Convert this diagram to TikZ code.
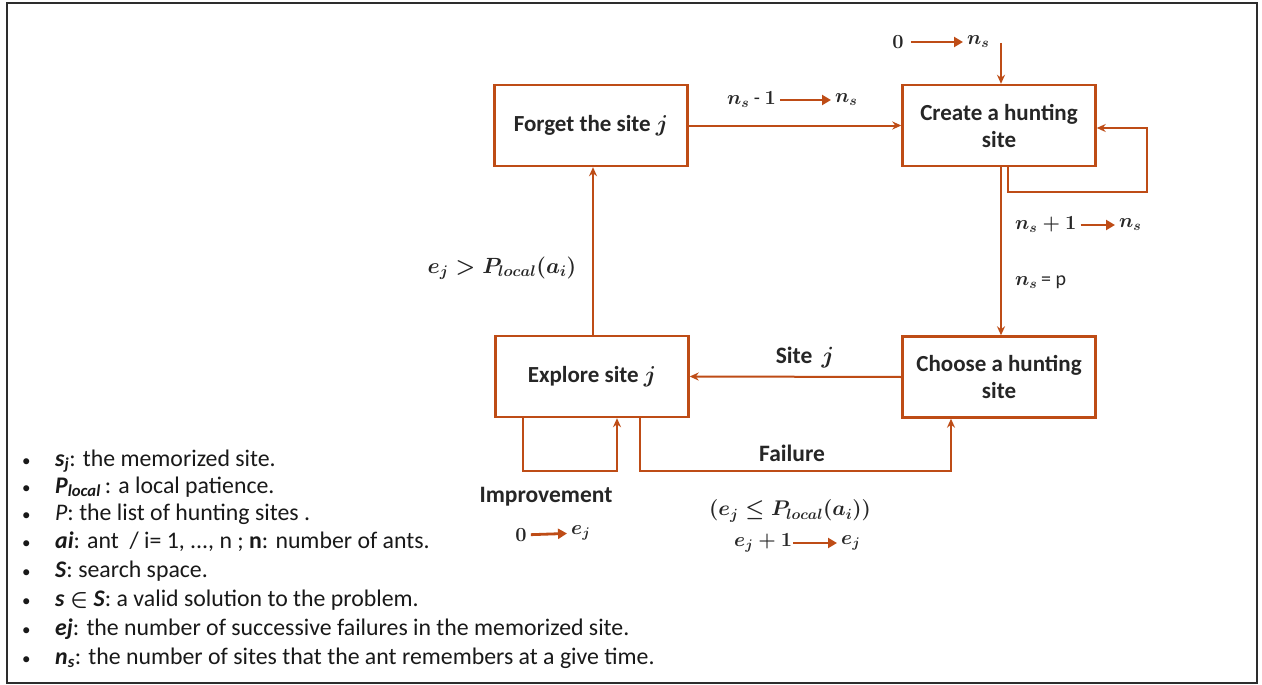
\RequirePackage{fix-cm}
\documentclass[tikz,border=0pt]{standalone}
\usepackage{amsmath}
\usepackage{fontspec}
\setmainfont{Carlito}
\usetikzlibrary{arrows.meta}
\definecolor{rust}{RGB}{190,76,22}
\definecolor{frame}{RGB}{45,45,45}
\newcommand{\bul}{\makebox[33pt][l]{\fontsize{17}{17}\selectfont\textbullet}}
\tikzset{
  stepbox/.style={draw=rust, line width=2.4pt, minimum width=193pt, minimum height=81pt, inner sep=0pt, align=center, font=\fontsize{23}{27}\selectfont\bfseries, text=black!85},
  conn/.style={draw=rust, line width=2pt, -{Stealth[length=9pt,width=8pt]}},
  lab/.style={font=\fontsize{23.5}{27}\selectfont\bfseries, text=black!85, inner sep=1pt},
  mlab/.style={font=\fontsize{20}{24}\selectfont\boldmath, text=black!85, inner sep=1pt},
  ilarrow/.style={draw=rust, line width=2.8pt, -{Triangle[length=9pt,width=10pt]}, shorten >=3pt, shorten <=3pt},
  legend/.style={anchor=west, font=\fontsize{23.8}{26}\selectfont, text=black!90, inner sep=0pt},
}
\begin{document}
\begin{tikzpicture}[x=1pt,y=-1pt]
\useasboundingbox (0,0) rectangle (1262,685);
\fill[white] (0,0) rectangle (1262,685);
\draw[frame, line width=2.6pt] (7,3) rectangle (1257,683);

% boxes
\node[stepbox] (forget)  at (591,125.5) {Forget the site $\boldsymbol{j}$};
\node[stepbox] (create)  at (999,125.5) {Create a hunting\\site};
\node[stepbox] (explore) at (592,376.5) {Explore site $\boldsymbol{j}$};
\node[stepbox] (choose)  at (999,377)   {Choose a hunting\\site};

% forget -> create
\draw[conn] (forget.east) -- (create.west);
\node[mlab, anchor=west] (nm1) at (726,100) {$n_s$ - $1$};
\node[mlab, anchor=west] (nm2) at (834,100) {$n_s$};
\draw[ilarrow] (nm1) -- (nm2);

% initial
\coordinate (top) at (1001,43);
\draw[conn] (top) -- (top |- create.north);
\node[mlab] (zero1) at (898,42) {$0$};
\node[mlab, anchor=west] (ns0) at (966,42) {$n_s$};
\draw[ilarrow, shorten <=6pt] (zero1) -- (ns0);

% create self loop
\coordinate (loopR) at (1147,192);
\draw[conn] ([xshift=9pt]create.south) |- (loopR) |- ([yshift=-2.5pt]create.east);
\node[mlab, anchor=west] (np1) at (1014,225) {$n_s+1$};
\node[mlab, anchor=west] (np2) at (1118,225) {$n_s$};
\draw[ilarrow] (np1) -- (np2);

% create -> choose
\draw[conn] ([xshift=2pt]create.south) -- ([xshift=2pt]choose.north);
\node[mlab, anchor=west] (eqp) at (1014,282) {$n_s\,$= p};

% choose -> explore
\draw[conn] (choose.west) -- (explore.east);
\node[lab] (sitej) at (805,358) {Site\, $\boldsymbol{j}$};

% explore -> forget
\draw[conn] ([xshift=1pt]explore.north) -- ([xshift=2pt]forget.south);
\node[mlab] (cond1) at (502,268) {\scalebox{1.1}{$e_j > P_{local}(a_i)$}};

% improvement loop
\draw[conn] ([xshift=-69pt]explore.south) -- ++(0,53) -| ([xshift=25pt]explore.south);
\node[lab] (impr) at (546,497) {Improvement};
\node[mlab] (zero2) at (521,535) {$0$};
\node[mlab, anchor=west] (ej0) at (570,533) {$e_j$};
\draw[ilarrow] (zero2) -- (ej0);

% failure
\draw[conn] ([xshift=48pt]explore.south) -- ++(0,53) -| ([xshift=-48pt]choose.south);
\node[lab] (fail) at (792,453) {Failure};
\node[mlab] (cond2) at (790,511) {\scalebox{1.06}{$(e_j \leq P_{local}(a_i))$}};
\node[mlab, anchor=west] (ep1) at (733,543) {$e_j+1$};
\node[mlab, anchor=west] (ep2) at (840,543) {$e_j$};
\draw[ilarrow, shorten <=0pt] (ep1) -- (ep2);

% legend
\node[legend] (l1) at (22,461) {\bul\textbf{\textit{s\textsubscript{j}}}: the memorized site.};
\node[legend] (l2) at (22,487) {\bul\textbf{\textit{P\textsubscript{local}}}\,: a local patience.};
\node[legend] (l3) at (22,514) {\bul\textit{P}: the list of hunting sites .};
\node[legend] (l4) at (22,542) {\bul\textbf{\textit{ai}}: ant~ / i= 1, ..., n ; \textbf{n}: number of ants.};
\node[legend] (l5) at (22,571) {\bul\textbf{\textit{S}}: search space.};
\node[legend] (l6) at (22,600) {\bul\textbf{\textit{s}} $\boldsymbol{\in}$ \textbf{\textit{S}}: a valid solution to the problem.};
\node[legend] (l7) at (22,629) {\bul\textbf{\textit{ej}}: the number of successive failures in the memorized site.};
\node[legend] (l8) at (22,658) {\bul\textbf{\textit{n\textsubscript{s}}}: the number of sites that the ant remembers at a give time.};
\end{tikzpicture}
\end{document}
